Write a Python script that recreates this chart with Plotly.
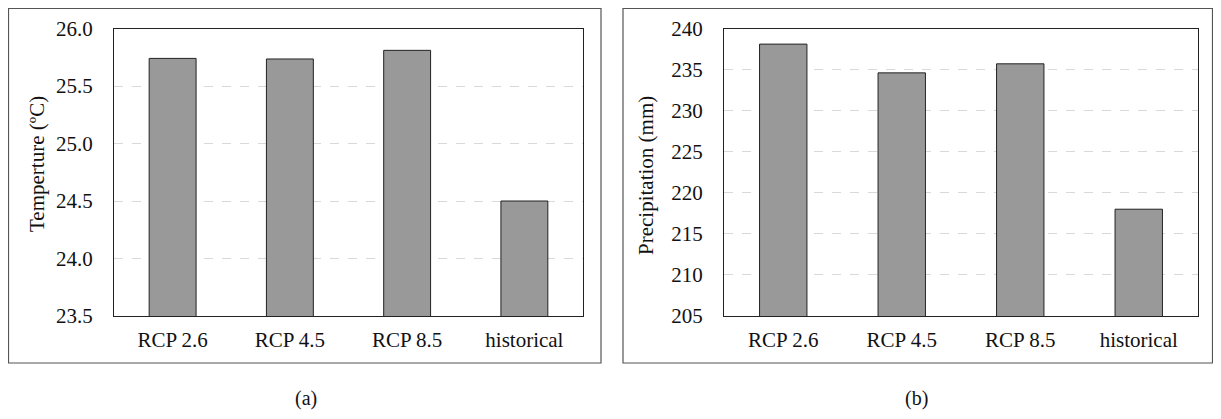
import plotly.graph_objects as go

categories = ["RCP 2.6", "RCP 4.5", "RCP 8.5", "historical"]
temperature = [25.74, 25.735, 25.81, 24.50]
precipitation = [238.1, 234.6, 235.7, 218.0]
temp_ticks = [23.5, 24.0, 24.5, 25.0, 25.5, 26.0]
prec_ticks = [205, 210, 215, 220, 225, 230, 235, 240]
panel_labels = ["(a)", "(b)"]
y_titles = ["Temperture (ºC)", "Precipitation (mm)"]

# page body has an 8px margin: figure is sized so the page fits the window
OFF = 8
W, H = 1221 - 2 * OFF, 419 - 2 * OFF
FONT = "Liberation Serif"
FS = 21


def px(x):
    return (x - OFF) / W


def py(y):
    return 1 - (y - OFF) / H


fig = go.Figure()
fig.add_trace(go.Bar(x=categories, y=temperature, xaxis="x", yaxis="y",
                     marker=dict(color="#999999", line=dict(color="#222222", width=1)),
                     width=0.4, showlegend=False))
fig.add_trace(go.Bar(x=categories, y=precipitation, xaxis="x2", yaxis="y2",
                     marker=dict(color="#999999", line=dict(color="#222222", width=1)),
                     width=0.4, showlegend=False))

axis_common = dict(showline=True, linecolor="#222222", linewidth=1, mirror=True,
                   automargin=False,
                   tickfont=dict(family=FONT, size=FS, color="#111111"), ticks="")
xaxis_common = dict(axis_common, showgrid=False, ticklabelstandoff=5)
yaxis_common = dict(axis_common, showgrid=True, gridcolor="#d9d9d9", griddash="dash",
                    gridwidth=1, zeroline=False, ticklabelstandoff=16)

ann_font = dict(family=FONT, size=FS, color="#111111")
lab_font = dict(family=FONT, size=20, color="#111111")

fig.update_layout(
    width=W, height=H,
    autosize=False,
    margin=dict(l=0, r=0, t=0, b=0, pad=0),
    font=dict(family=FONT, size=FS, color="#111111"),
    paper_bgcolor="white", plot_bgcolor="white",
    bargap=0.6,
    xaxis=dict(xaxis_common, domain=[px(114), px(583)], anchor="y"),
    yaxis=dict(yaxis_common, domain=[py(316), py(28.5)], anchor="x",
               range=[23.5, 26.0], tickvals=temp_ticks,
               ticktext=[f"{v:.1f}" for v in temp_ticks]),
    xaxis2=dict(xaxis_common, domain=[px(724), px(1198)], anchor="y2"),
    yaxis2=dict(yaxis_common, domain=[py(316), py(28.5)], anchor="x2",
                range=[205, 240], tickvals=prec_ticks,
                ticktext=[str(v) for v in prec_ticks]),
    shapes=[
        dict(type="rect", xref="paper", yref="paper", x0=px(8.5), x1=px(601), y0=py(363), y1=py(8.5),
             line=dict(color="#555555", width=1.2), layer="below"),
        dict(type="rect", xref="paper", yref="paper", x0=px(623), x1=px(1212.5), y0=py(363), y1=py(8.5),
             line=dict(color="#555555", width=1.2), layer="below"),
    ],
    annotations=[
        dict(text=y_titles[0], xref="paper", yref="paper", x=px(37), y=py(164),
             xanchor="center", yanchor="middle",
             textangle=-90, showarrow=False, font=ann_font),
        dict(text=y_titles[1], xref="paper", yref="paper", x=px(646), y=py(176),
             xanchor="center", yanchor="middle",
             textangle=-90, showarrow=False, font=ann_font),
        dict(text=panel_labels[0], xref="paper", yref="paper", x=px(306), y=py(398.5),
             xanchor="center", yanchor="middle", showarrow=False, font=lab_font),
        dict(text=panel_labels[1], xref="paper", yref="paper", x=px(916), y=py(398.5),
             xanchor="center", yanchor="middle", showarrow=False, font=lab_font),
    ],
)

fig.write_html("out.html")
